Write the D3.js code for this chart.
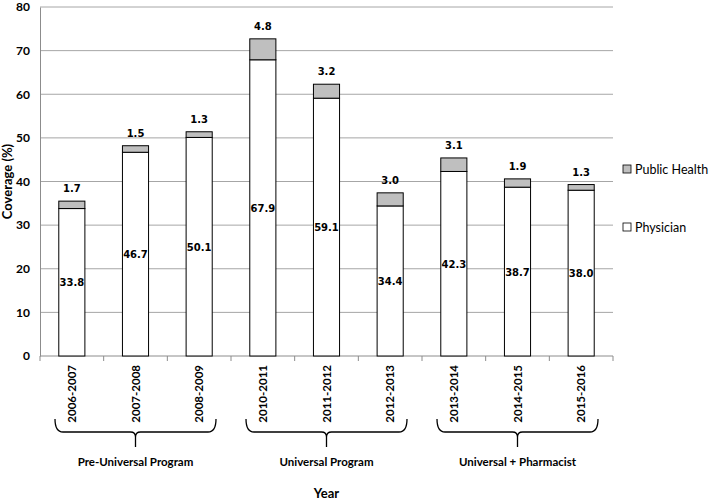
<!DOCTYPE html>
<html>
<head>
<meta charset="utf-8">
<script src="https://cdn.jsdelivr.net/npm/d3@7"></script>
<style>
  body { margin: 0; background: #fff; }
</style>
</head>
<body>
<div id="chart"></div>
<script>
const years = ['2006-2007', '2007-2008', '2008-2009', '2010-2011', '2011-2012', '2012-2013', '2013-2014', '2014-2015', '2015-2016'];
const physician = [33.8, 46.7, 50.1, 67.9, 59.1, 34.4, 42.3, 38.7, 38.0];
const publicHealth = [1.7, 1.5, 1.3, 4.8, 3.2, 3.0, 3.1, 1.9, 1.3];
const groups = [
  {label: 'Pre-Universal Program', from: 0, to: 2},
  {label: 'Universal Program', from: 3, to: 5},
  {label: 'Universal + Pharmacist', from: 6, to: 8}
];
const yTicks = [0, 10, 20, 30, 40, 50, 60, 70, 80];

var width = 709;
var height = 500;
var margin = { top: 7, bottom: 144, left: 40, right: 96 };

var svg = d3.select('#chart')
  .append('svg')
  .attr('width', width)
  .attr('height', height);

const x = d3.scaleBand()
  .domain(years)
  .range([margin.left, width - margin.right])
  .paddingInner(0.59)
  .paddingOuter(0.295);

const y = d3.scaleLinear()
  .domain([0, 80])
  .range([height - margin.bottom, margin.top]);

const labelFont = 'Lato, "Liberation Sans", sans-serif';
const valueFont = '"DejaVu Sans", sans-serif';

// gridlines
svg.append('g')
  .selectAll('line')
  .data(yTicks.slice(1))
  .join('line')
    .attr('x1', margin.left)
    .attr('x2', width - margin.right)
    .attr('y1', d => y(d))
    .attr('y2', d => y(d))
    .attr('stroke', '#a6a6a6')
    .attr('stroke-width', 1);

// y axis
const yAxis = svg.append('g')
  .attr('transform', `translate(${margin.left},0)`)
  .call(d3.axisLeft(y).tickValues(yTicks).tickSize(0).tickPadding(10));
yAxis.select('.domain').attr('stroke', '#8c8c8c');
yAxis.selectAll('text')
  .attr('font-family', labelFont)
  .attr('font-weight', 'bold')
  .attr('font-size', '12px')
  .attr('fill', '#000');

// x axis: ticks on band edges
const step = x.step();
const edges = d3.range(years.length + 1).map(i => margin.left + i * step);
svg.append('line')
  .attr('x1', margin.left).attr('x2', width - margin.right)
  .attr('y1', y(0)).attr('y2', y(0))
  .attr('stroke', '#8c8c8c');
svg.append('g')
  .selectAll('line')
  .data(edges)
  .join('line')
    .attr('x1', d => d).attr('x2', d => d)
    .attr('y1', y(0)).attr('y2', y(0) + 5)
    .attr('stroke', '#8c8c8c');

svg.append('g')
  .selectAll('text')
  .data(years)
  .join('text')
    .attr('transform', d => `translate(${x(d) + x.bandwidth() / 2 + 4},${y(0) + 9}) rotate(-90)`)
    .attr('text-anchor', 'end')
    .attr('font-family', labelFont)
    .attr('font-weight', 'bold')
    .attr('font-size', '11.5px')
    .text(d => d);

// bars
svg.append('g')
  .selectAll('rect')
  .data(years)
  .join('rect')
    .attr('x', d => x(d))
    .attr('y', (d, i) => y(physician[i]))
    .attr('width', x.bandwidth())
    .attr('height', (d, i) => y(0) - y(physician[i]))
    .attr('fill', '#fff')
    .attr('stroke', '#000')
    .attr('stroke-width', 1);

svg.append('g')
  .selectAll('rect')
  .data(years)
  .join('rect')
    .attr('x', d => x(d))
    .attr('y', (d, i) => y(physician[i] + publicHealth[i]))
    .attr('width', x.bandwidth())
    .attr('height', (d, i) => y(physician[i]) - y(physician[i] + publicHealth[i]))
    .attr('fill', '#bfbfbf')
    .attr('stroke', '#000')
    .attr('stroke-width', 1);

// value labels
svg.append('g')
  .selectAll('text')
  .data(years)
  .join('text')
    .attr('x', d => x(d) + x.bandwidth() / 2)
    .attr('y', (d, i) => y(physician[i] / 2) + 4)
    .attr('text-anchor', 'middle')
    .attr('font-family', valueFont)
    .attr('font-weight', 'bold')
    .attr('font-size', '10px')
    .text((d, i) => physician[i].toFixed(1));

svg.append('g')
  .selectAll('text')
  .data(years)
  .join('text')
    .attr('x', d => x(d) + x.bandwidth() / 2)
    .attr('y', (d, i) => y(physician[i] + publicHealth[i]) - 9)
    .attr('text-anchor', 'middle')
    .attr('font-family', valueFont)
    .attr('font-weight', 'bold')
    .attr('font-size', '10px')
    .text((d, i) => publicHealth[i].toFixed(1));

// group braces
const braceTop = 419, braceMid = 432, braceTip = 447;
groups.forEach(g => {
  const x0 = margin.left + g.from * step + 15;
  const x1 = margin.left + (g.to + 1) * step - 15;
  const mid = (x0 + x1) / 2;
  const p = d3.path();
  p.moveTo(x0, braceTop);
  p.quadraticCurveTo(x0, braceMid, x0 + 8, braceMid);
  p.lineTo(mid - 5, braceMid);
  p.quadraticCurveTo(mid, braceMid, mid, braceMid + 5);
  p.lineTo(mid, braceTip);
  p.moveTo(mid, braceMid + 5);
  p.quadraticCurveTo(mid, braceMid, mid + 5, braceMid);
  p.lineTo(x1 - 8, braceMid);
  p.quadraticCurveTo(x1, braceMid, x1, braceTop);
  svg.append('path')
    .attr('d', p.toString())
    .attr('fill', 'none')
    .attr('stroke', '#000')
    .attr('stroke-width', 1.3);
  svg.append('text')
    .attr('x', mid)
    .attr('y', 466)
    .attr('text-anchor', 'middle')
    .attr('font-family', labelFont)
    .attr('font-weight', 'bold')
    .attr('font-size', '11.5px')
    .text(g.label);
});

// axis titles
svg.append('text')
  .attr('x', (margin.left + width - margin.right) / 2)
  .attr('y', 498)
  .attr('text-anchor', 'middle')
  .attr('font-family', labelFont)
  .attr('font-weight', 'bold')
  .attr('font-size', '13px')
  .text('Year');

svg.append('text')
  .attr('transform', `translate(12,${(y(0) + y(80)) / 2}) rotate(-90)`)
  .attr('text-anchor', 'middle')
  .attr('font-family', labelFont)
  .attr('font-weight', 'bold')
  .attr('font-size', '13px')
  .text('Coverage (%)');

// legend
const legend = [
  {label: 'Public Health', fill: '#bfbfbf', cy: 169},
  {label: 'Physician', fill: '#fff', cy: 227}
];
legend.forEach(l => {
  svg.append('rect')
    .attr('x', 623).attr('y', l.cy - 4)
    .attr('width', 8).attr('height', 8)
    .attr('fill', l.fill)
    .attr('stroke', '#000')
    .attr('stroke-width', 0.8);
  svg.append('text')
    .attr('x', 635).attr('y', l.cy + 5)
    .attr('font-family', labelFont)
    .attr('font-size', '12.5px')
    .text(l.label);
});
</script>
</body>
</html>
